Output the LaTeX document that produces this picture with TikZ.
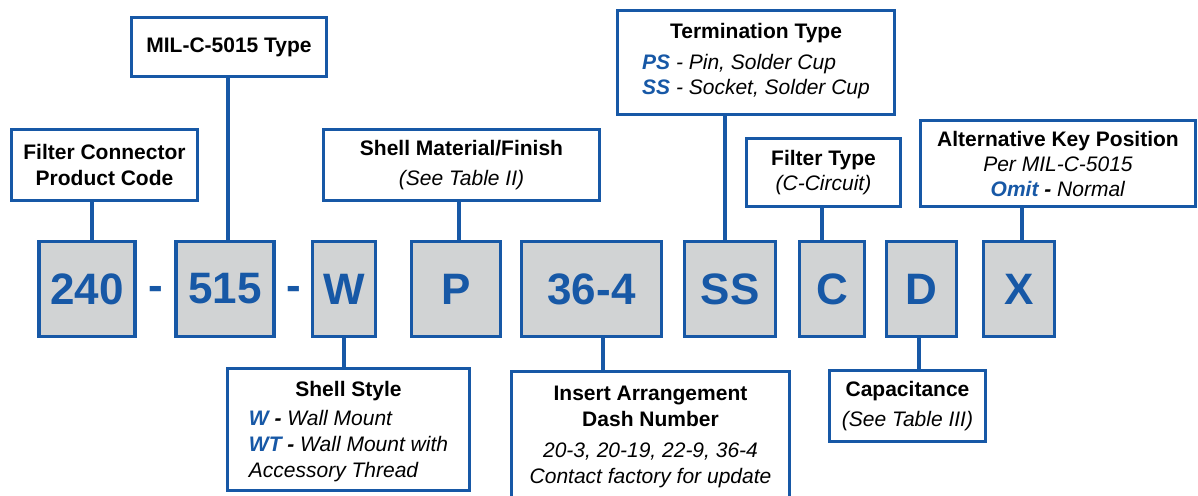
\documentclass[tikz,border=0pt]{standalone}
\usepackage{fontspec}
\setmainfont{Liberation Sans}
\definecolor{partblue}{HTML}{1758A6}
\definecolor{partgray}{HTML}{D1D3D4}
\tikzset{
  codebox/.style={draw=partblue, line width=3.4pt, fill=partgray, minimum height=95pt, inner sep=0pt,
    text=partblue, font=\fontsize{44}{44}\selectfont\bfseries},
  infobox/.style={draw=partblue, line width=3.4pt, fill=white, inner sep=0pt, align=center,
    font=\fontsize{21}{25}\selectfont},
  dashsign/.style={text=partblue, inner sep=0pt, font=\fontsize{44}{44}\selectfont\bfseries},
  link/.style={draw=partblue, line width=3.4pt}
}
\newcommand{\keycode}[1]{\textcolor{partblue}{\textbf{#1}}}
\begin{document}
\begin{tikzpicture}[x=1pt,y=-1pt]
\useasboundingbox (0,0) rectangle (1198,495);
%part number row
\node[codebox, minimum width=96pt] at (87,289) (c240) {240};
\node[dashsign] at (155.5,293.5) (d1) {-};
\node[codebox, minimum width=98pt] at (225,289) (c515) {515};
\node[dashsign] at (294,293.5) (d2) {-};
\node[codebox, minimum width=63pt] at (344,289) (cw) {W};
\node[codebox, minimum width=89pt] at (456,289) (cp) {P};
\node[codebox, minimum width=140pt] at (591.5,289) (cins) {36-4};
\node[codebox, minimum width=91pt] at (730,289) (css) {SS};
\node[codebox, minimum width=65pt] at (832,289) (cc) {C};
\node[codebox, minimum width=70pt] at (921.5,289) (cd) {D};
\node[codebox, minimum width=71pt] at (1019,289) (cx) {X};

%labels above
\node[infobox, minimum width=195pt, minimum height=59pt] at (229,47) (mil) {\textbf{MIL-C-5015 Type}};
\node[infobox, minimum width=186pt, minimum height=71pt, font=\fontsize{21}{26}\selectfont] at (104.5,165) (fcpc)
  {\textbf{Filter Connector}\\\textbf{Product Code}};
\node[infobox, minimum width=276pt, minimum height=71pt] at (461.5,165) (shmat)
  {\textbf{Shell Material/Finish}\\[5pt]\textit{(See Table II)}};
\node[infobox, minimum width=277pt, minimum height=104pt] at (756,62.5) (term)
  {\textbf{Termination Type}\\[6pt]
   \begin{tabular}[t]{@{}l@{}}\itshape\keycode{PS} - Pin, Solder Cup\\\itshape\keycode{SS} - Socket, Solder Cup\end{tabular}};
\node[infobox, minimum width=154pt, minimum height=68pt] at (823.5,172.5) (ftype)
  {\textbf{Filter Type}\\\textit{(C-Circuit)}};
\node[infobox, minimum width=275pt, minimum height=86pt] at (1058,163.5) (altkey)
  {\textbf{Alternative Key Position}\\\textit{Per MIL-C-5015}\\\textit{\keycode{Omit} \textbf{-} Normal}};

%labels below
\node[infobox, minimum width=242pt, minimum height=122pt, font=\fontsize{21}{26}\selectfont] at (348.5,429.5) (shstyle)
  {\rule{0pt}{23pt}\textbf{Shell Style}\\[3pt]
   \begin{tabular}[t]{@{}l@{}}\itshape\keycode{W} \textbf{-} Wall Mount\\\itshape\keycode{WT} \textbf{-} Wall Mount with\\\itshape Accessory Thread\end{tabular}};
\node[infobox, minimum width=278pt, minimum height=131pt, font=\fontsize{21}{26}\selectfont] at (650.5,437) (insert)
  {\textbf{Insert Arrangement}\\\textbf{Dash Number}\\[5pt]\textit{20-3, 20-19, 22-9, 36-4}\\\textit{Contact factory for update}};
\node[infobox, minimum width=156pt, minimum height=71pt] at (907.5,406) (capac)
  {\textbf{Capacitance}\\[5pt]\textit{(See Table III)}};

%connectors
\draw[link] ([xshift=5pt]c240.north) -- ([xshift=5pt]c240.north |- fcpc.south);
\draw[link] ([xshift=3pt]c515.north) -- ([xshift=3pt]c515.north |- mil.south);
\draw[link] ([xshift=3pt]cp.north) -- ([xshift=3pt]cp.north |- shmat.south);
\draw[link] ([xshift=-5pt]css.north) -- ([xshift=-5pt]css.north |- term.south);
\draw[link] ([xshift=-10pt]cc.north) -- ([xshift=-10pt]cc.north |- ftype.south);
\draw[link] ([xshift=3pt]cx.north) -- ([xshift=3pt]cx.north |- altkey.south);
\draw[link] (cw.south) -- (cw.south |- shstyle.north);
\draw[link] ([xshift=11.5pt]cins.south) -- ([xshift=11.5pt]cins.south |- insert.north);
\draw[link] ([xshift=-2.5pt]cd.south) -- ([xshift=-2.5pt]cd.south |- capac.north);
\end{tikzpicture}
\end{document}
